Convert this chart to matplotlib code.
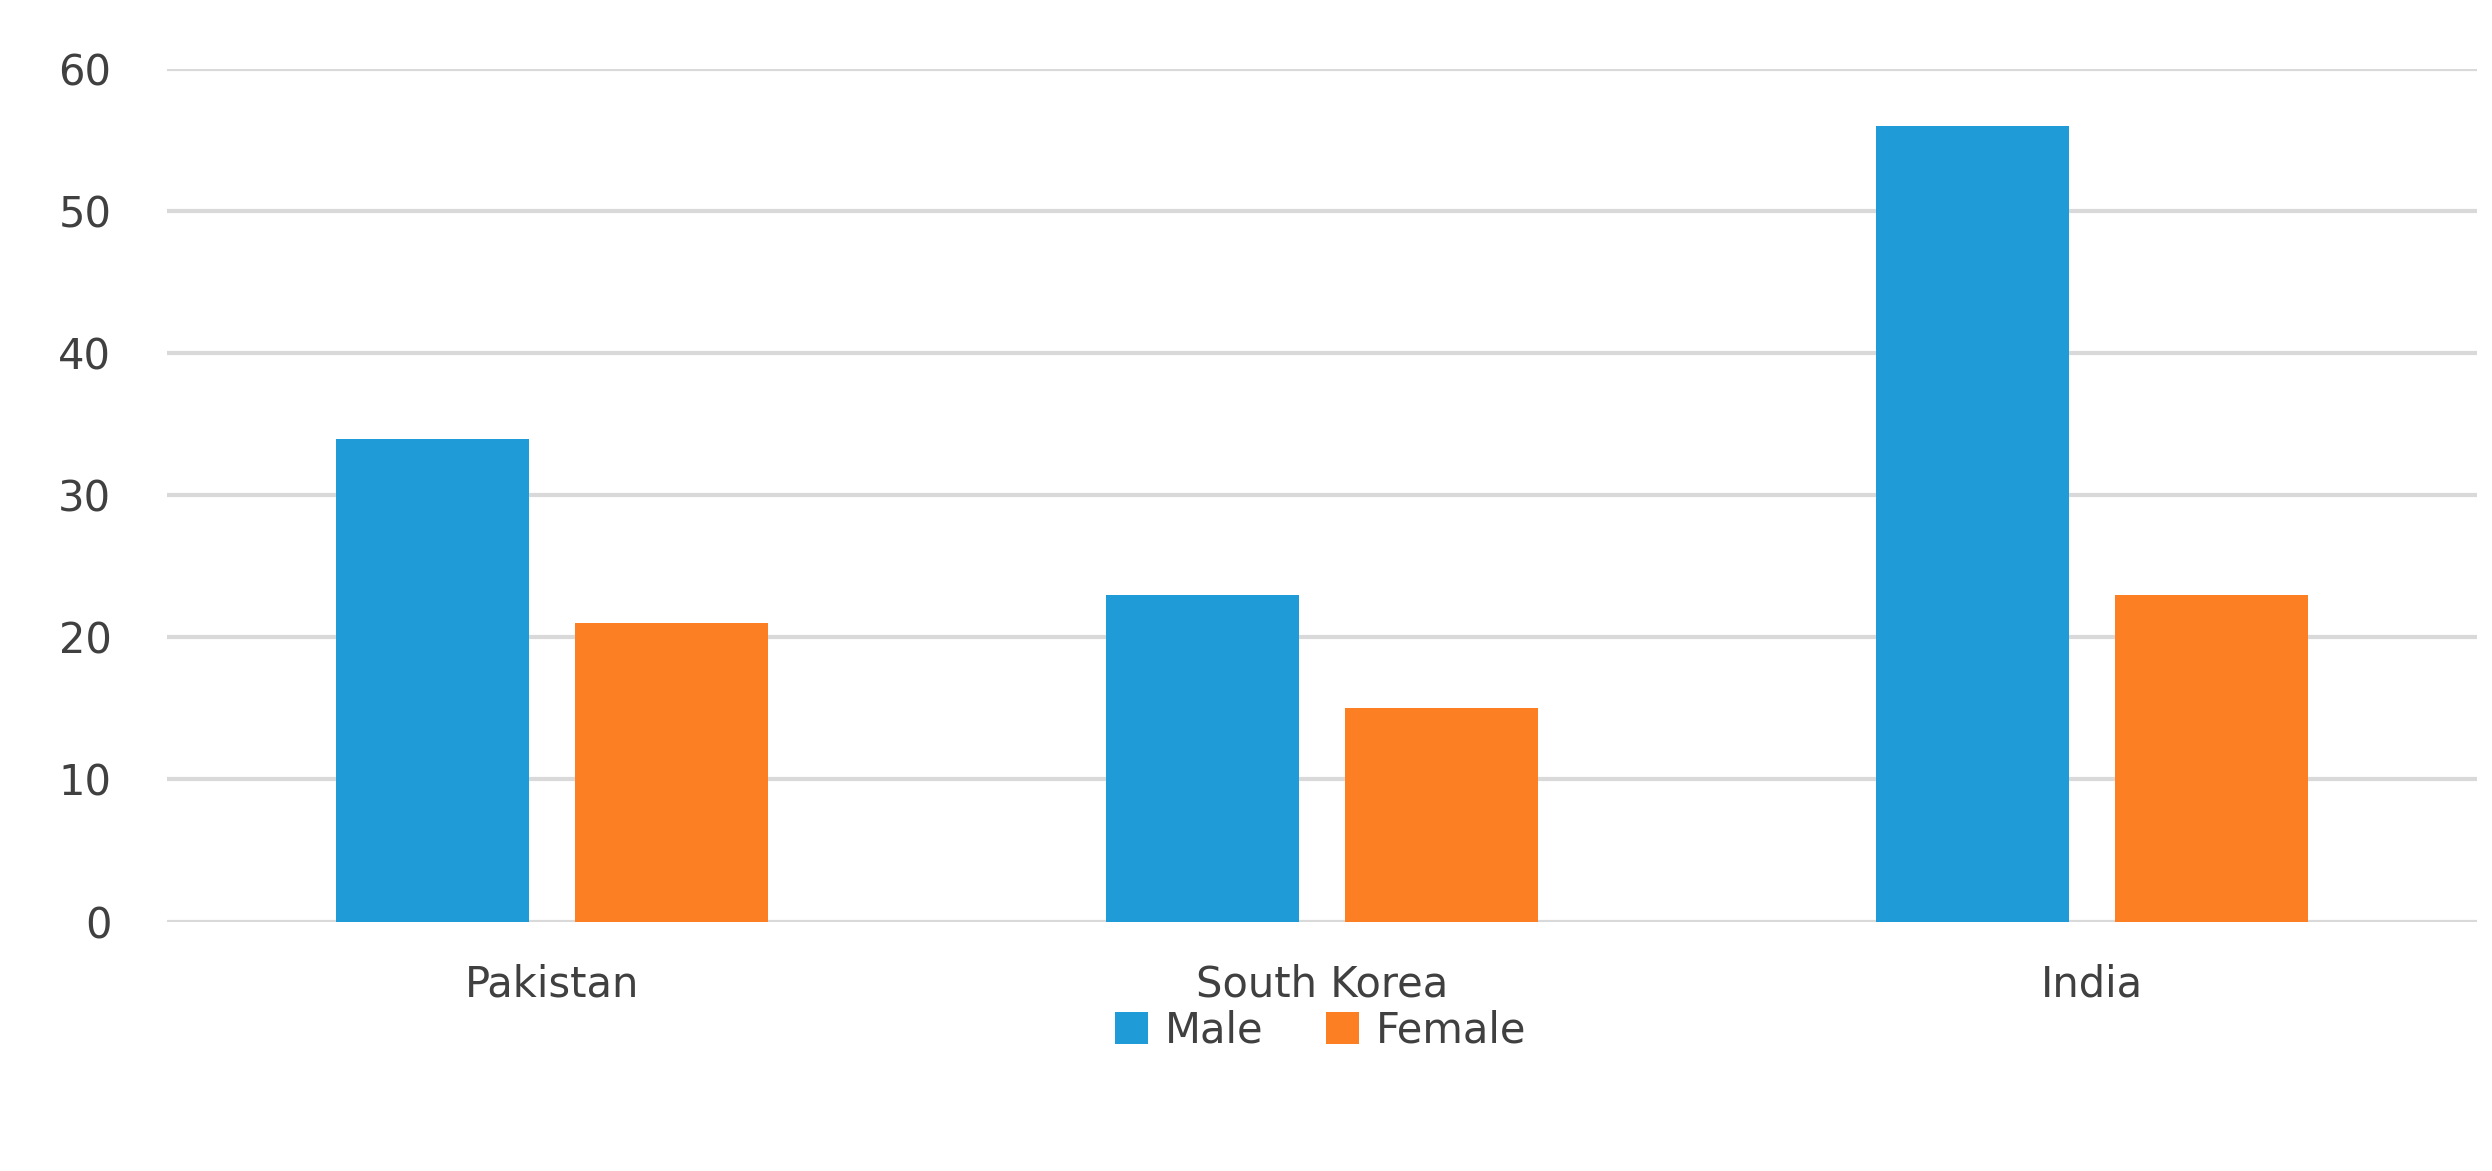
import matplotlib
matplotlib.use("Agg")
import matplotlib.pyplot as plt
import numpy as np

categories = ["Pakistan", "South Korea", "India"]
male = [34, 23, 56]
female = [21, 15, 23]

fig = plt.figure(figsize=(24.92, 11.71), dpi=100)
ax = fig.add_axes([0.067, 0.213, 0.927, 0.728])
x = np.arange(len(categories))
w = 0.25
ax.bar(x - 0.155, male, w, color="#1f9bd7", label="Male", zorder=3)
ax.bar(x + 0.155, female, w, color="#fd7f23", label="Female", zorder=3)
ax.set_xlim(-0.5, 2.5)
ax.set_ylim(0, 60)
ax.set_yticks(range(0, 61, 10))
ax.set_xticks(x)
ax.set_xticklabels(categories)
ax.yaxis.grid(True, color="#d9d9d9", linewidth=3, zorder=0)
for s in ax.spines.values():
    s.set_visible(False)
ax.tick_params(length=0, labelsize=30, colors="#404040", pad=30)
ax.tick_params(axis="y", pad=40)
fig.legend(loc="center", bbox_to_anchor=(0.53, 0.12), ncol=2, frameon=False,
           fontsize=30, handlelength=0.8, handleheight=0.8, columnspacing=1.5,
           handletextpad=0.4, labelcolor="#404040")
fig.savefig("out.png", dpi=100)
